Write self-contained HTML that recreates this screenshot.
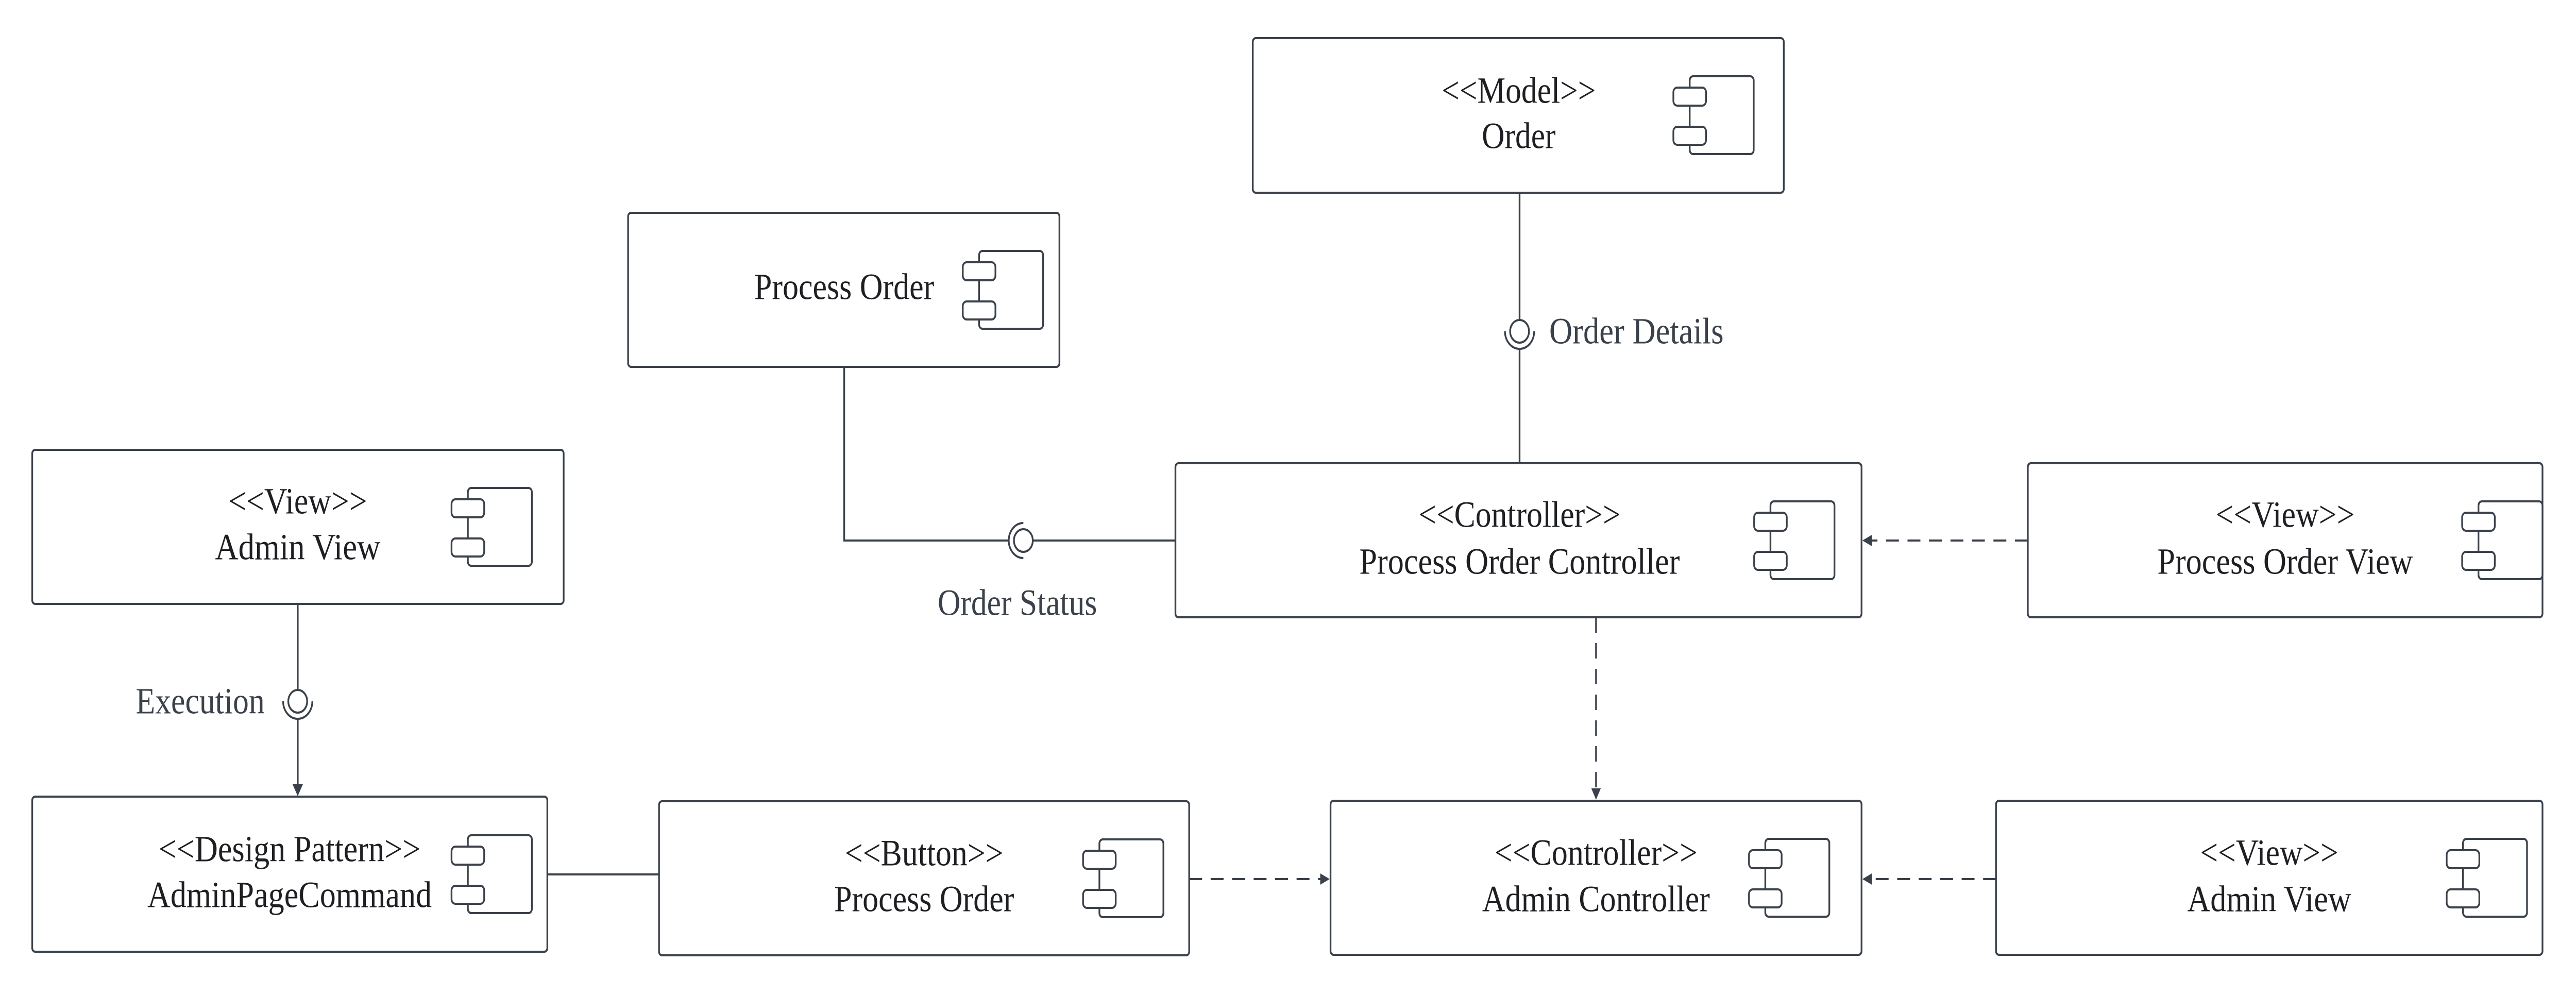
<!DOCTYPE html>
<html><head><meta charset="utf-8"><style>
html,body{margin:0;padding:0;background:#fff;width:100%;height:100%;overflow:hidden;}
svg{display:block;width:100vw;height:100vh;}
text{font-family:"Liberation Serif",serif;font-size:72px;fill:#1e1f22;dominant-baseline:central;}
.l{fill:#3a414a;}
</style></head><body>
<svg viewBox="0 0 5996 1931" preserveAspectRatio="none" xmlns="http://www.w3.org/2000/svg">
<defs>
<g id="ic" fill="#fff" stroke="#3a414a" stroke-width="4">
<rect x="38" y="0" width="149" height="151" rx="8"/>
<rect x="0" y="22" width="76" height="35" rx="9"/>
<rect x="0" y="98" width="76" height="35" rx="9"/>
</g>
</defs>
<g fill="none" stroke="#3a414a" stroke-width="4">
<line x1="3537" y1="374" x2="3537" y2="621"/>
<line x1="3537" y1="679" x2="3537" y2="899"/>
<path d="M3503 643 A34 34 0 0 0 3571 643"/>
<circle cx="3537" cy="643" r="22"/>
<polyline points="1965,712 1965,1049 2348,1049"/>
<line x1="2404" y1="1049" x2="2735" y2="1049"/>
<path d="M2382 1015 A34 34 0 0 0 2382 1083"/>
<circle cx="2382" cy="1049" r="22"/>
<line x1="693" y1="1172" x2="693" y2="1339"/>
<line x1="693" y1="1395" x2="693" y2="1526"/>
<path d="M659 1361 A34 34 0 0 0 727 1361"/>
<circle cx="693" cy="1361" r="22"/>
<line x1="1274" y1="1697" x2="1534" y2="1697"/>
<g stroke-dasharray="30 20">
<line x1="4720" y1="1049" x2="4355" y2="1049"/>
<line x1="3715" y1="1198" x2="3715" y2="1532"/>
<line x1="4646" y1="1706" x2="4355" y2="1706"/>
<line x1="2768" y1="1706" x2="3075" y2="1706"/>
</g>
</g>
<g fill="#3a414a">
<polygon points="4335,1049 4357,1038 4357,1060"/>
<polygon points="3715,1552 3704,1530 3726,1530"/>
<polygon points="4335,1706 4357,1695 4357,1717"/>
<polygon points="3095,1706 3073,1695 3073,1717"/>
<polygon points="693,1545 681,1522 705,1522"/>
</g>
<g fill="#fff" stroke="#3a414a" stroke-width="4">
<rect x="2916" y="74" width="1236" height="300" rx="7"/>
<rect x="1462" y="413" width="1004" height="299" rx="7"/>
<rect x="75" y="873" width="1237" height="299" rx="7"/>
<rect x="2736" y="899" width="1597" height="299" rx="7"/>
<rect x="4720" y="899" width="1198" height="299" rx="7"/>
<rect x="75" y="1546" width="1199" height="301" rx="7"/>
<rect x="1534" y="1555" width="1234" height="299" rx="7"/>
<rect x="3097" y="1554" width="1236" height="299" rx="7"/>
<rect x="4646" y="1554" width="1272" height="299" rx="7"/>
</g>
<use href="#ic" x="3895" y="148"/>
<use href="#ic" x="2241" y="487"/>
<use href="#ic" x="1051" y="947"/>
<use href="#ic" x="4083" y="973"/>
<use href="#ic" x="5731" y="973"/>
<use href="#ic" x="1051" y="1621"/>
<use href="#ic" x="2521" y="1629"/>
<use href="#ic" x="4071" y="1628"/>
<use href="#ic" x="5695" y="1628"/>
<g text-anchor="middle">
<text x="3535" y="176" textLength="359" lengthAdjust="spacingAndGlyphs">&lt;&lt;Model&gt;&gt;</text>
<text x="3535" y="264" textLength="172" lengthAdjust="spacingAndGlyphs">Order</text>
<text x="1965" y="557" textLength="419" lengthAdjust="spacingAndGlyphs">Process Order</text>
<text x="693" y="973" textLength="323" lengthAdjust="spacingAndGlyphs">&lt;&lt;View&gt;&gt;</text>
<text x="693" y="1062" textLength="385" lengthAdjust="spacingAndGlyphs">Admin View</text>
<text x="3537" y="999" textLength="471" lengthAdjust="spacingAndGlyphs">&lt;&lt;Controller&gt;&gt;</text>
<text x="3537" y="1090" textLength="746" lengthAdjust="spacingAndGlyphs">Process Order Controller</text>
<text x="5319" y="999" textLength="324" lengthAdjust="spacingAndGlyphs">&lt;&lt;View&gt;&gt;</text>
<text x="5319" y="1090" textLength="595" lengthAdjust="spacingAndGlyphs">Process Order View</text>
<text x="674" y="1648" textLength="610" lengthAdjust="spacingAndGlyphs">&lt;&lt;Design Pattern&gt;&gt;</text>
<text x="674" y="1737" textLength="662" lengthAdjust="spacingAndGlyphs">AdminPageCommand</text>
<text x="2151" y="1656" textLength="369" lengthAdjust="spacingAndGlyphs">&lt;&lt;Button&gt;&gt;</text>
<text x="2151" y="1745" textLength="419" lengthAdjust="spacingAndGlyphs">Process Order</text>
<text x="3715" y="1655" textLength="473" lengthAdjust="spacingAndGlyphs">&lt;&lt;Controller&gt;&gt;</text>
<text x="3715" y="1745" textLength="530" lengthAdjust="spacingAndGlyphs">Admin Controller</text>
<text x="5282" y="1655" textLength="322" lengthAdjust="spacingAndGlyphs">&lt;&lt;View&gt;&gt;</text>
<text x="5282" y="1745" textLength="382" lengthAdjust="spacingAndGlyphs">Admin View</text>
<text class="l" x="2368" y="1170" textLength="371" lengthAdjust="spacingAndGlyphs">Order Status</text>
</g>
<text class="l" x="3606" y="643" textLength="406" lengthAdjust="spacingAndGlyphs">Order Details</text>
<text class="l" x="316" y="1361" textLength="300" lengthAdjust="spacingAndGlyphs">Execution</text>
</svg>
</body></html>
